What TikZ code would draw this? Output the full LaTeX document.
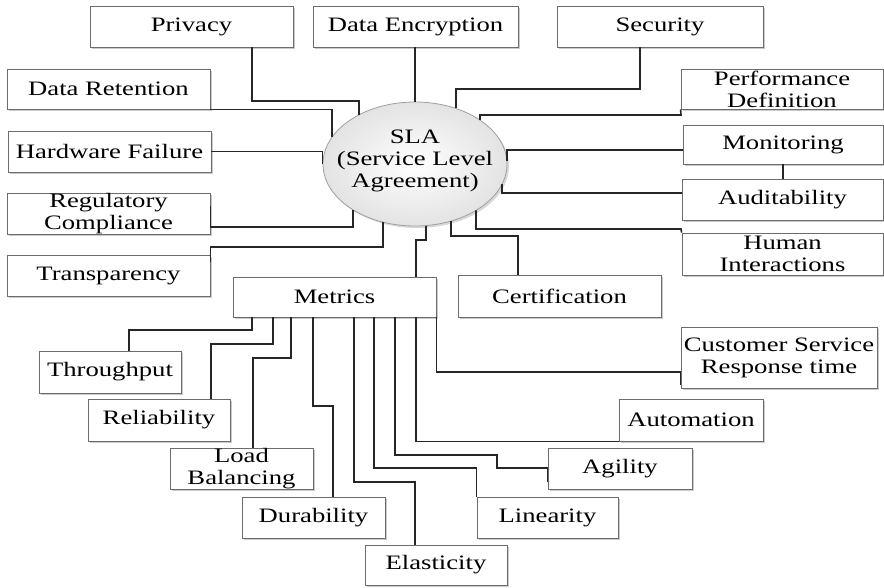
\documentclass[tikz,border=0pt]{standalone}
\usepackage{fontspec}
\setmainfont[FakeStretch=1.3]{Liberation Serif}
\usetikzlibrary{shapes.geometric,shadows}
\newcommand\bx[6]{\node[bx, minimum width={(#4-#2)*1pt}, minimum height={(#5-#3)*1pt}] (#1) at ({(#2+#4)/2},{(#3+#5)/2}) {#6};}
\begin{document}
\begin{tikzpicture}[x=1pt,y=-1pt,
  txt/.style={font=\fontsize{20.5}{22}\selectfont},
  bx/.style={txt, draw=gray!85!black, line width=0.8pt, fill=white, inner sep=0pt, align=center,
     drop shadow={shadow xshift=2pt, shadow yshift=-2pt, fill=black!35, opacity=0.6}},
  ln/.style={draw=black!85, line width=1.6pt}]
\useasboundingbox (0,0) rectangle (884,587);
% top row
\bx{privacy}{90}{6}{293}{47}{Privacy}
\bx{dataenc}{313}{6}{518}{47}{Data Encryption}
\bx{security}{557}{6}{763}{47}{Security}
% left column
\bx{dataret}{7}{69}{210}{109}{Data Retention}
\bx{hardware}{8}{131}{211}{172}{Hardware Failure}
\bx{regulatory}{7}{193}{210}{234}{Regulatory\\Compliance}
\bx{transparency}{7}{255}{210}{296}{Transparency}
% right column
\bx{perf}{681}{69}{883}{109}{Performance\\Definition}
\bx{monitoring}{683}{125}{883}{164}{Monitoring}
\bx{audit}{682}{179}{883}{220}{Auditability}
\bx{human}{682}{233}{883}{275}{Human\\Interactions}
% middle
\bx{cert}{458}{275}{661}{317}{Certification}
\bx{metrics}{233}{277}{436}{317}{Metrics}
% metrics children
\bx{throughput}{39}{351}{181}{393}{Throughput}
\bx{reliability}{88}{399}{230}{441}{Reliability}
\bx{loadbal}{170}{448}{313}{489}{Load\\Balancing}
\bx{durability}{242}{497}{385}{538}{Durability}
\bx{elasticity}{365}{545}{507}{585}{Elasticity}
\bx{linearity}{477}{497}{618}{538}{Linearity}
\bx{agility}{548}{448}{692}{489}{Agility}
\bx{automation}{619}{399}{763}{441}{Automation}
\bx{csr}{681}{327}{877}{388}{Customer Service\\Response time}
% central ellipse
\node[ellipse, txt, draw=gray!75, line width=0.8pt, minimum width=184pt, minimum height=124pt, inner sep=0pt,
      inner color=white, outer color=gray!22,
      drop shadow={shadow xshift=2pt, shadow yshift=-2pt, fill=black!30, opacity=0.5}] (sla) at (415,164)
  {\smash{\makebox[0pt]{\raisebox{-2pt}{\begin{tabular}{@{}c@{}}SLA\\(Service Level\\Agreement)\end{tabular}}}}};
% connectors to SLA
\draw[ln] (privacy.south -| 252,0) |- (359,101) -- (sla.139 -| 359,0);
\draw[ln] (dataenc.south -| sla.north) -- (sla.north);
\draw[ln] (security.south -| 640,0) |- (456,89) -- (sla.53 -| 456,0);
\draw[ln] (dataret.south east) -| (sla.162 -| 332,0);
\draw[ln] (hardware.east) -| (sla.west);
\draw[ln] (regulatory.east |- 0,206) -- (regulatory.east |- 0,227) -| (sla.217 -| 353,0);
\draw[ln] (transparency.east |- 0,262) -- (transparency.east |- 0,247) -| (sla.241 -| 383,0);
\draw[ln] (metrics.north -| 416,0) |- (426,240) -- (sla.280 -| 426,0);
\draw[ln] (perf.south west) -- (681,115) -| (sla.34 -| 480,0);
\draw[ln] (monitoring.west |- 0,150) -| (sla.2);
\draw[ln, line width=1.2pt] (monitoring.south -| 783,0) -- (audit.north -| 783,0);
\draw[ln] (audit.west |- 0,193) -| (sla.347 -| 502,0);
\draw[ln] (human.north west) -- (681,229) -| (sla.323 -| 476,0);
\draw[ln] (cert.north -| 518,0) |- (451,236) -- (sla.302 -| 451,0);
% metrics branches
\draw[ln] (metrics.south -| 252,0) |- (129,330) -- (throughput.north -| 129,0);
\draw[ln] (metrics.south -| 273,0) |- (211,344) -- (reliability.north -| 211,0);
\draw[ln] (metrics.south -| 291,0) |- (253,358) -- (loadbal.north -| 253,0);
\draw[ln] (metrics.south -| 313,0) |- (333,406) -- (durability.north -| 333,0);
\draw[ln] (metrics.south -| 354,0) |- (415,482) -- (elasticity.north -| 415,0);
\draw[ln] (metrics.south -| 374,0) |- (linearity.north west |- 0,468) -- (linearity.north west);
\draw[ln] (metrics.south -| 395,0) |- (497,455) -- (497,468) -- (agility.west |- 0,468) -- (agility.west |- 0,482);
\draw[ln] (metrics.south -| 416,0) |- (automation.south west);
\draw[ln] (metrics.south east) |- (csr.west |- 0,372) -- (csr.west |- 0,385);
\end{tikzpicture}
\end{document}
